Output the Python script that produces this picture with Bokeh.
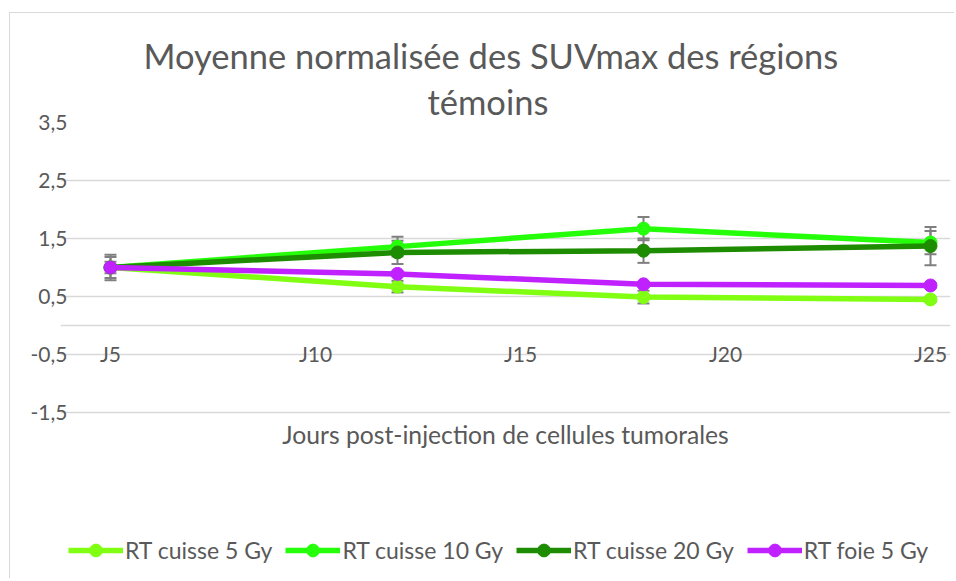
from bokeh.plotting import figure
from bokeh.models import (ColumnDataSource, Whisker, TeeHead, Legend, LegendItem,
                          Range1d, FixedTicker, Title)
from bokeh.embed import file_html
from bokeh.resources import INLINE

# ---- data ----
days = [5, 12, 18, 25]
series_names = ["RT cuisse 5 Gy", "RT cuisse 10 Gy", "RT cuisse 20 Gy", "RT foie 5 Gy"]
cuisse5 = [1.0, 0.67, 0.49, 0.45]
cuisse5_err = [0.10, 0.10, 0.11, 0.04]
cuisse10 = [1.0, 1.36, 1.67, 1.43]
cuisse10_err = [0.22, 0.17, 0.20, 0.20]
cuisse20 = [1.0, 1.26, 1.29, 1.37]
cuisse20_err = [0.18, 0.20, 0.21, 0.33]
foie5 = [1.0, 0.89, 0.71, 0.69]
foie5_err = [0.05, 0.04, 0.04, 0.04]
colors = ["#80FF12", "#26FF0A", "#1E8C00", "#BF22FF"]

x_ticks = [5, 10, 15, 20, 25]
x_tick_labels = ["J5", "J10", "J15", "J20", "J25"]
y_ticks = [-1.5, -0.5, 0.5, 1.5, 2.5, 3.5]
y_tick_labels = ["-1,5", "-0,5", "0,5", "1,5", "2,5", "3,5"]
grid_lines = [-1.5, -0.5, 0.0, 0.5, 1.5, 2.5, 3.5]   # incl. the horizontal axis line at 0
title_lines = ["Moyenne normalisée des SUVmax des régions", "témoins"]

FONT = "Lato"
TXT = "#595959"

# frame spans the whole chart area so that the legend below is not clipped
p = figure(width=945, height=566, output_backend="svg", toolbar_location=None,
           x_range=Range1d(3.7805, 25.4878), y_range=Range1d(-4.2586, 3.5),
           min_border_left=50, min_border_right=5, min_border_top=109,
           min_border_bottom=7)
p.outline_line_color = None
p.styles = {"margin-left": "9px", "margin-top": "12px",
            "border-top": "1px solid #D9D9D9", "border-left": "1px solid #D9D9D9"}

# title: two lines; titles added later sit closer to the plot
p.title.text = title_lines[0]
p.title.align = "left"
p.title.offset = 83
p.title.standoff = 4
p.title.text_font = FONT
p.title.text_font_style = "normal"
p.title.text_font_size = "34.5px"
p.title.text_color = TXT
p.add_layout(Title(text=title_lines[1], align="left", offset=367, standoff=2,
                   text_font=FONT, text_font_style="normal", text_font_size="34.5px",
                   text_color=TXT), "above")

# grid (limited to the plotting area of the original)
p.xgrid.visible = False
p.ygrid.ticker = FixedTicker(ticks=grid_lines)
p.ygrid.bounds = (4.512, 25.4878)
p.ygrid.grid_line_color = "#D9D9D9"
p.ygrid.grid_line_width = 1.5

# y axis
p.yaxis.ticker = FixedTicker(ticks=y_ticks)
p.yaxis.major_label_overrides = dict(zip(y_ticks, y_tick_labels))
p.yaxis.axis_line_color = None
p.yaxis.major_tick_line_color = None
p.yaxis.major_tick_out = 0
p.yaxis.minor_tick_line_color = None
p.yaxis.major_label_standoff = -7
p.yaxis.major_label_text_font = FONT
p.yaxis.major_label_text_font_size = "21px"
p.yaxis.major_label_text_color = TXT

# x axis (labels sit on the -0,5 gridline, as in the original)
p.xaxis.ticker = FixedTicker(ticks=x_ticks)
p.xaxis.major_label_overrides = dict(zip(x_ticks, x_tick_labels))
p.xaxis.axis_line_color = None
p.xaxis.major_tick_line_color = None
p.xaxis.major_tick_out = 0
p.xaxis.minor_tick_line_color = None
p.xaxis.major_label_standoff = -232
p.xaxis.major_label_text_font = FONT
p.xaxis.major_label_text_font_size = "21px"
p.xaxis.major_label_text_color = TXT
p.xaxis.axis_label = "Jours post-injection de cellules tumorales"
p.xaxis.axis_label_text_font = FONT
p.xaxis.axis_label_text_font_style = "normal"
p.xaxis.axis_label_text_font_size = "24.7px"
p.xaxis.axis_label_text_color = TXT
p.xaxis.axis_label_standoff = 51

items = []
for name, vals, errs, col in zip(series_names, [cuisse5, cuisse10, cuisse20, foie5],
                                 [cuisse5_err, cuisse10_err, cuisse20_err, foie5_err], colors):
    src = ColumnDataSource(dict(x=days, y=vals,
                                upper=[v + e for v, e in zip(vals, errs)],
                                lower=[v - e for v, e in zip(vals, errs)]))
    w = Whisker(base="x", upper="upper", lower="lower", source=src,
                line_color="#7F7F7F", line_width=2,
                upper_head=TeeHead(size=12, line_color="#7F7F7F", line_width=2),
                lower_head=TeeHead(size=12, line_color="#7F7F7F", line_width=2))
    p.add_layout(w)
    l = p.line("x", "y", source=src, line_color=col, line_width=5.5)
    s = p.scatter("x", "y", source=src, size=13, fill_color=col, line_color=col)
    items.append(LegendItem(label=name, renderers=[l, s]))

legend = Legend(items=items, orientation="horizontal", location=(8, 6))
legend.label_text_font = FONT
legend.label_text_font_size = "23px"
legend.label_text_color = TXT
legend.glyph_width = 55
legend.glyph_height = 32
legend.label_standoff = 2
legend.spacing = 13
legend.padding = 5
legend.margin = 0
legend.border_line_color = None
legend.background_fill_alpha = 0
p.add_layout(legend, "center")

open("out.html", "w").write(file_html(p, INLINE))
